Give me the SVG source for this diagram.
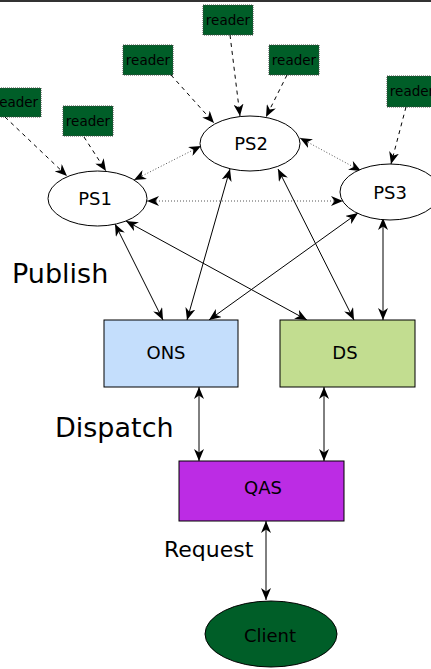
<svg xmlns="http://www.w3.org/2000/svg" width="431" height="669" viewBox="0 0 431 669">
<defs>
<marker id="ah" viewBox="0 0 12 10" refX="12" refY="5" markerWidth="12" markerHeight="10" markerUnits="userSpaceOnUse" orient="auto-start-reverse">
<path d="M0,0 L12,5 L0,10 L3.5,5 z" fill="#000"/>
</marker>
</defs>
<style>
.t{font-family:"DejaVu Sans",sans-serif;fill:#000}
.reader rect{fill:#005e28;stroke:#444;stroke-width:1;stroke-dasharray:1,1}
.reader text{font-size:13.5px;text-anchor:middle}
.ps ellipse{fill:#fff;stroke:#000;stroke-width:1}
.lbl{font-size:18px;text-anchor:middle}
.solid{stroke:#000;stroke-width:1;fill:none;marker-end:url(#ah);marker-start:url(#ah)}
.dash{stroke:#000;stroke-width:1;fill:none;stroke-dasharray:4,4;marker-end:url(#ah)}
.dot{stroke:#555;stroke-width:1;fill:none;stroke-dasharray:1,2;marker-end:url(#ah);marker-start:url(#ah)}
.big{font-size:27px}
</style>
<rect x="0" y="0" width="431" height="2" fill="#333"/>

<g id="r1" class="reader t"><rect x="-9" y="88" width="50" height="29"/><text x="16" y="107">reader</text></g>
<g id="r2" class="reader t"><rect x="63" y="106" width="50" height="30"/><text x="88" y="126">reader</text></g>
<g id="r3" class="reader t"><rect x="123" y="45" width="50" height="30"/><text x="148" y="65">reader</text></g>
<g id="r4" class="reader t"><rect x="203" y="5" width="50" height="30"/><text x="228" y="25">reader</text></g>
<g id="r5" class="reader t"><rect x="269" y="45" width="50" height="30"/><text x="294" y="65">reader</text></g>
<g id="r6" class="reader t"><rect x="387" y="76" width="50" height="31"/><text x="412" y="96">reader</text></g>

<g id="connectors">
<line class="dash" x1="5" y1="117" x2="67" y2="176"/>
<line class="dash" x1="84" y1="137" x2="106" y2="171"/>
<line class="dash" x1="171" y1="75" x2="214" y2="123"/>
<line class="dash" x1="230" y1="35" x2="240" y2="116"/>
<line class="dash" x1="287" y1="75" x2="266" y2="117"/>
<line class="dash" x1="406" y1="107" x2="391" y2="164"/>
<line class="dot" x1="134" y1="180" x2="201" y2="146"/>
<line class="dot" x1="147" y1="201" x2="343" y2="201"/>
<line class="dot" x1="300" y1="138" x2="361" y2="171"/>
<line class="solid" x1="115" y1="224" x2="163" y2="320"/>
<line class="solid" x1="126" y1="221" x2="307" y2="320"/>
<line class="solid" x1="230" y1="169" x2="187" y2="320"/>
<line class="solid" x1="278" y1="169" x2="354" y2="320"/>
<line class="solid" x1="358" y1="213" x2="209" y2="320"/>
<line class="solid" x1="383" y1="218" x2="383" y2="320"/>
<line class="solid" x1="199" y1="387" x2="199" y2="461"/>
<line class="solid" x1="324" y1="387" x2="324" y2="461"/>
<line class="solid" x1="266" y1="521" x2="266" y2="600"/>
</g>

<g id="ps1" class="ps t"><ellipse cx="97.5" cy="198.5" rx="49.5" ry="27.5"/><text class="lbl" x="95" y="205">PS1</text></g>
<g id="ps2" class="ps t"><ellipse cx="250" cy="143.5" rx="50" ry="27.5"/><text class="lbl" x="251" y="150">PS2</text></g>
<g id="ps3" class="ps t"><ellipse cx="390" cy="192" rx="50" ry="28"/><text class="lbl" x="390" y="199">PS3</text></g>

<g id="ons" class="t"><rect x="104" y="320" width="134" height="67" fill="#c4defc" stroke="#000" stroke-width="1"/><text class="lbl" x="166" y="359">ONS</text></g>
<g id="ds" class="t"><rect x="280" y="320" width="135" height="67" fill="#c2dd90" stroke="#000" stroke-width="1"/><text class="lbl" x="345" y="359">DS</text></g>
<g id="qas" class="t"><rect x="179" y="461" width="165" height="60" fill="#bc2ce4" stroke="#000" stroke-width="1"/><text class="lbl" x="263" y="494">QAS</text></g>
<g id="client" class="t"><ellipse cx="271" cy="634" rx="66" ry="33" fill="#005e28" stroke="#000" stroke-width="1"/><text class="lbl" x="270" y="642">Client</text></g>

<text class="t big" x="12" y="283">Publish</text>
<text class="t big" x="55" y="437">Dispatch</text>
<text class="t" x="164" y="557" style="font-size:22px">Request</text>
</svg>
